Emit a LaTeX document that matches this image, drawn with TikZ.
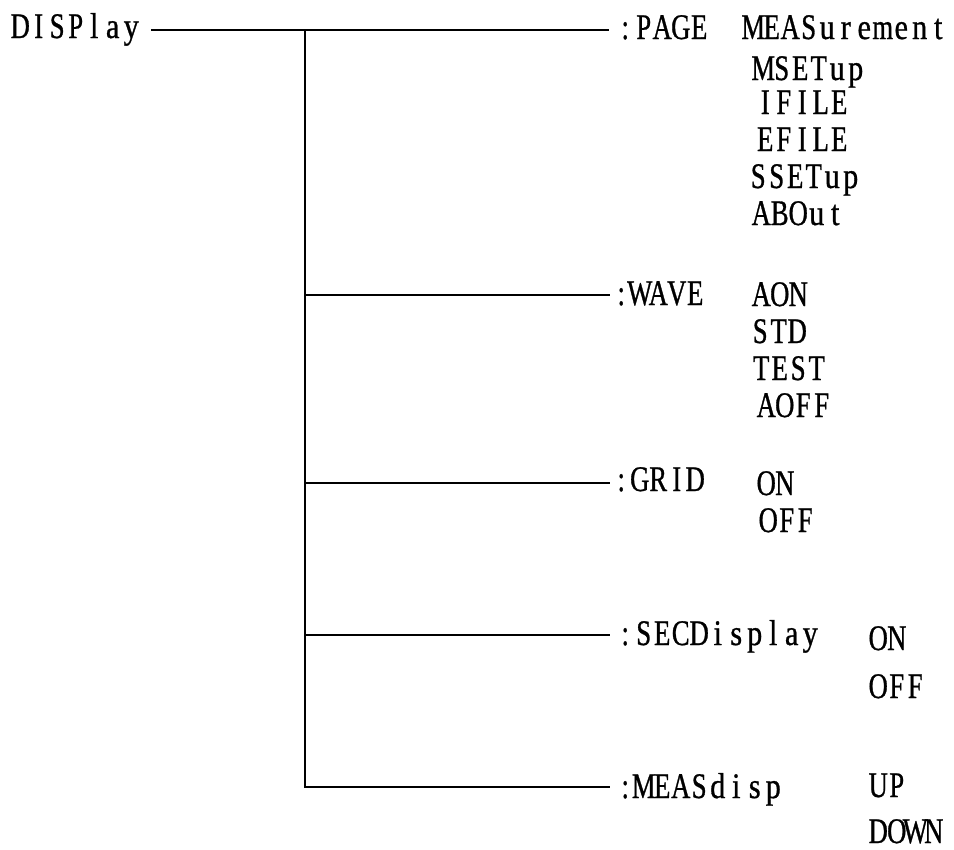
\documentclass[tikz,border=0pt]{standalone}
\usepackage{fontspec}
\setmainfont{Liberation Serif}[FakeStretch=0.74,FakeBold=0.8]
\newfontfamily\lcfont{Liberation Serif}[FakeStretch=0.84,FakeBold=0.8]
\ExplSyntaxOn
\NewDocumentCommand\monotxt{m}{\tl_map_inline:nn{#1}{\hbox_to_wd:nn{13.875pt}{\hss
  \str_if_in:nnTF{abcdefghijklnopqrstuvwxyz}{##1}{{\lcfont ##1}}{##1}\hss}}}
\ExplSyntaxOff
\begin{document}
\begin{tikzpicture}[x=0.75pt,y=-0.75pt,
  lbl/.style={inner sep=0pt,outer sep=0pt,anchor=base west,font=\fontsize{27}{30}\selectfont},
  wire/.style={line width=1.5pt,line cap=rect}]
\useasboundingbox (0,0) rectangle (954,850);
% root
\node[lbl] (disp) at (11,38) {\monotxt{DISPlay}};
% branch labels
\node[lbl] (page) at (616,39) {\monotxt{:PAGE}};
\node[lbl] (wave) at (612,305) {\monotxt{:WAVE}};
\node[lbl] (grid) at (612,491) {\monotxt{:GRID}};
\node[lbl] (sec) at (616,645) {\monotxt{:SECDisplay}};
\node[lbl] (meas) at (616,798) {\monotxt{:MEASdisp}};
% PAGE values
\node[lbl] (p1) at (744,39) {\monotxt{MEASurement}};
\node[lbl] (p2) at (754,80) {\monotxt{MSETup}};
\node[lbl] (p3) at (756,114) {\monotxt{IFILE}};
\node[lbl] (p4) at (756,151) {\monotxt{EFILE}};
\node[lbl] (p5) at (749,188) {\monotxt{SSETup}};
\node[lbl] (p6) at (752,225) {\monotxt{ABOut}};
% WAVE values
\node[lbl] (w1) at (752,306) {\monotxt{AON}};
\node[lbl] (w2) at (751,343) {\monotxt{STD}};
\node[lbl] (w3) at (752,380) {\monotxt{TEST}};
\node[lbl] (w4) at (757,417) {\monotxt{AOFF}};
% GRID values
\node[lbl] (g1) at (757,495) {\monotxt{ON}};
\node[lbl] (g2) at (759,532) {\monotxt{OFF}};
% SECDisplay values
\node[lbl] (s1) at (869,650) {\monotxt{ON}};
\node[lbl] (s2) at (869,698) {\monotxt{OFF}};
% MEASdisp values
\node[lbl] (m1) at (869,797) {\monotxt{UP}};
\node[lbl] (m2) at (869,843) {\monotxt{DOWN}};
% connector points
\coordinate (r0) at (152,30);
\coordinate (j0) at (305,30);
\coordinate (j1) at (305,295);
\coordinate (j2) at (305,483);
\coordinate (j3) at (305,635);
\coordinate (j4) at (305,787);
\coordinate (e0) at (608,30);
\coordinate (e1) at (609,295);
\coordinate (e2) at (609,483);
\coordinate (e3) at (609,635);
\coordinate (e4) at (609,787);
\draw[wire] (r0) -- (e0);
\draw[wire] (j0) -- (j4);
\draw[wire] (j1) -- (e1);
\draw[wire] (j2) -- (e2);
\draw[wire] (j3) -- (e3);
\draw[wire] (j4) -- (e4);
\end{tikzpicture}
\end{document}
